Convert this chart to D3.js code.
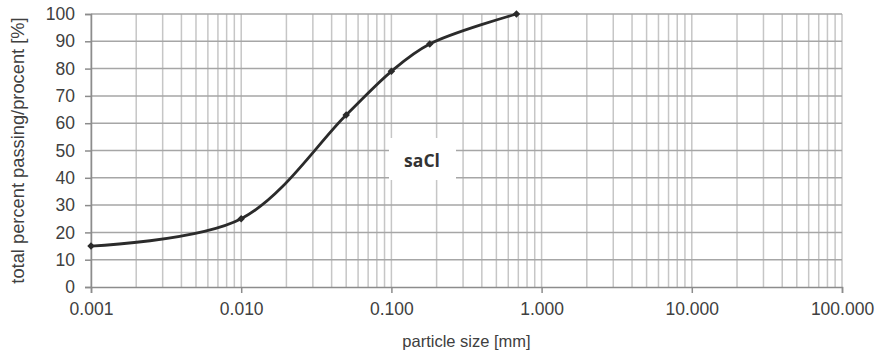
<!DOCTYPE html>
<html>
<head>
<meta charset="utf-8">
<script src="https://cdn.jsdelivr.net/npm/d3@7"></script>
<style>
  html, body { margin: 0; padding: 0; background: #fff; }
  svg { display: block; }
  text { font-family: "Liberation Sans", Arial, sans-serif; fill: #404040; }
</style>
</head>
<body>
<svg id="chart" width="879" height="359"></svg>
<script>
// Grain-size distribution (sieve / hydrometer results)
const particleSize = [0.001, 0.01, 0.05, 0.1, 0.18, 0.68];   // mm
const percentPassing = [15, 25, 63, 79, 89, 100];              // %
const xTickValues = [0.001, 0.01, 0.1, 1, 10, 100];
const xTickLabels = ["0.001", "0.010", "0.100", "1.000", "10.000", "100.000"];
const yTickValues = [0, 10, 20, 30, 40, 50, 60, 70, 80, 90, 100];
const soilLabel = "saCl";

const svg = d3.select("#chart");
const plotLeft = 91, plotRight = 842, plotTop = 14, plotBottom = 287;

const x = d3.scaleLog().domain([0.001, 100]).range([plotLeft, plotRight]);
const y = d3.scaleLinear().domain([0, 100]).range([plotBottom, plotTop]);

// minor vertical gridlines: 1..9 in each decade
const minor = [];
for (let e = -3; e < 2; e++) {
  for (let m = 1; m <= 9; m++) minor.push(m * Math.pow(10, e));
}
minor.push(100);

svg.append("g").selectAll("line").data(minor).join("line")
  .attr("x1", d => x(d)).attr("x2", d => x(d))
  .attr("y1", plotTop).attr("y2", plotBottom)
  .attr("stroke", "#c6c6c6").attr("stroke-width", 1.5);

// horizontal gridlines
svg.append("g").selectAll("line").data(yTickValues.filter(v => v > 0)).join("line")
  .attr("x1", plotLeft).attr("x2", plotRight)
  .attr("y1", d => y(d)).attr("y2", d => y(d))
  .attr("stroke", "#a6a6a6").attr("stroke-width", 1.5);

// x axis
const xAxis = d3.axisBottom(x)
  .tickValues(xTickValues)
  .tickFormat((d, i) => xTickLabels[i])
  .tickSize(6).tickPadding(10);
const gx = svg.append("g").attr("transform", `translate(0,${plotBottom})`).call(xAxis);
gx.select(".domain").attr("stroke", "#8c8c8c").attr("stroke-width", 1.5);
gx.selectAll(".tick line").attr("stroke", "#8c8c8c").attr("stroke-width", 1.5);
gx.selectAll(".tick text").attr("font-size", 17.5).attr("fill", "#404040")
  .attr("font-family", "Liberation Sans, Arial, sans-serif");

// y axis
const yAxis = d3.axisLeft(y).tickValues(yTickValues).tickSize(6).tickPadding(10);
const gy = svg.append("g").attr("transform", `translate(${plotLeft},0)`).call(yAxis);
gy.select(".domain").attr("stroke", "#8c8c8c").attr("stroke-width", 1.5);
gy.selectAll(".tick line").attr("stroke", "#8c8c8c").attr("stroke-width", 1.5);
gy.selectAll(".tick text").attr("font-size", 17.5).attr("fill", "#404040")
  .attr("font-family", "Liberation Sans, Arial, sans-serif");

// axis titles
svg.append("text")
  .attr("x", (plotLeft + plotRight) / 2).attr("y", 347)
  .attr("text-anchor", "middle").attr("font-size", 16.5)
  .text("particle size [mm]");

svg.append("text")
  .attr("transform", `translate(24,${(plotTop + plotBottom) / 2}) rotate(-90)`)
  .attr("text-anchor", "middle").attr("font-size", 18.3)
  .text("total percent passing/procent [%]");

// soil class label on a white box
const lx = 422, ly = 159;
svg.append("rect").attr("x", lx - 33).attr("y", ly - 21).attr("width", 67).attr("height", 42)
  .attr("fill", "#fff");
svg.append("text").attr("x", lx).attr("y", ly + 8)
  .attr("text-anchor", "middle")
  .style("font-family", "'Open Sans', sans-serif")
  .style("font-weight", "bold").style("font-size", "17.5px").style("fill", "#333")
  .text(soilLabel);

// grading curve
const pts = particleSize.map((d, i) => [x(d), y(percentPassing[i])]);
svg.append("path")
  .attr("d", d3.line().curve(d3.curveCatmullRom.alpha(0.5))(pts))
  .attr("fill", "none").attr("stroke", "#2b2b2b").attr("stroke-width", 2.8);

svg.append("g").selectAll("path").data(pts).join("path")
  .attr("transform", d => `translate(${d[0]},${d[1]})`)
  .attr("d", d3.symbol(d3.symbolDiamond2, 36)())
  .attr("fill", "#2b2b2b");
</script>
</body>
</html>
